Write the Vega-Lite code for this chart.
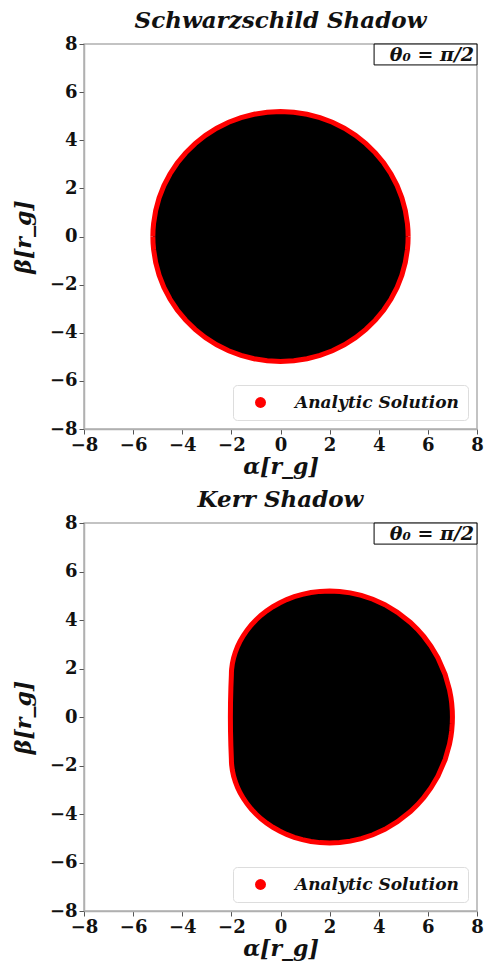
{
  "$schema": "https://vega.github.io/schema/vega-lite/v6.json",
  "background": "white",
  "padding": {"left": 11, "top": 9, "right": 8, "bottom": 1},
  "spacing": 10,
  "resolve": {"scale": {"color": "independent"}, "legend": {"color": "independent"}},
  "datasets": {
    "schw": [
      {"a": -5.196, "b": 0, "nb": 0},
      {"a": -5.189, "b": 0.272, "nb": -0.272},
      {"a": -5.167, "b": 0.543, "nb": -0.543},
      {"a": -5.082, "b": 1.080, "nb": -1.080},
      {"a": -4.942, "b": 1.606, "nb": -1.606},
      {"a": -4.747, "b": 2.113, "nb": -2.113},
      {"a": -4.500, "b": 2.598, "nb": -2.598},
      {"a": -4.204, "b": 3.054, "nb": -3.054},
      {"a": -3.861, "b": 3.477, "nb": -3.477},
      {"a": -3.477, "b": 3.861, "nb": -3.861},
      {"a": -3.054, "b": 4.204, "nb": -4.204},
      {"a": -2.598, "b": 4.500, "nb": -4.500},
      {"a": -2.113, "b": 4.747, "nb": -4.747},
      {"a": -1.606, "b": 4.942, "nb": -4.942},
      {"a": -1.080, "b": 5.082, "nb": -5.082},
      {"a": -0.543, "b": 5.167, "nb": -5.167},
      {"a": 0, "b": 5.196, "nb": -5.196},
      {"a": 0.543, "b": 5.167, "nb": -5.167},
      {"a": 1.080, "b": 5.082, "nb": -5.082},
      {"a": 1.606, "b": 4.942, "nb": -4.942},
      {"a": 2.113, "b": 4.747, "nb": -4.747},
      {"a": 2.598, "b": 4.500, "nb": -4.500},
      {"a": 3.054, "b": 4.204, "nb": -4.204},
      {"a": 3.477, "b": 3.861, "nb": -3.861},
      {"a": 3.861, "b": 3.477, "nb": -3.477},
      {"a": 4.204, "b": 3.054, "nb": -3.054},
      {"a": 4.500, "b": 2.598, "nb": -2.598},
      {"a": 4.747, "b": 2.113, "nb": -2.113},
      {"a": 4.942, "b": 1.606, "nb": -1.606},
      {"a": 5.082, "b": 1.080, "nb": -1.080},
      {"a": 5.167, "b": 0.543, "nb": -0.543},
      {"a": 5.189, "b": 0.272, "nb": -0.272},
      {"a": 5.196, "b": 0, "nb": 0}
    ],
    "kerr": [
      {"a": -2.04, "b": 0, "nb": 0},
      {"a": -2.035, "b": 0.6, "nb": -0.6},
      {"a": -2.02, "b": 1.2, "nb": -1.2},
      {"a": -2.0, "b": 1.732, "nb": -1.732},
      {"a": -1.9975, "b": 1.848, "nb": -1.848},
      {"a": -1.99, "b": 1.965, "nb": -1.965},
      {"a": -1.96, "b": 2.200, "nb": -2.200},
      {"a": -1.91, "b": 2.436, "nb": -2.436},
      {"a": -1.84, "b": 2.671, "nb": -2.671},
      {"a": -1.75, "b": 2.905, "nb": -2.905},
      {"a": -1.64, "b": 3.135, "nb": -3.135},
      {"a": -1.51, "b": 3.362, "nb": -3.362},
      {"a": -1.36, "b": 3.582, "nb": -3.582},
      {"a": -1.19, "b": 3.795, "nb": -3.795},
      {"a": -1.0, "b": 4.0, "nb": -4.0},
      {"a": -0.79, "b": 4.195, "nb": -4.195},
      {"a": -0.56, "b": 4.378, "nb": -4.378},
      {"a": -0.31, "b": 4.548, "nb": -4.548},
      {"a": -0.04, "b": 4.703, "nb": -4.703},
      {"a": 0.25, "b": 4.841, "nb": -4.841},
      {"a": 0.56, "b": 4.961, "nb": -4.961},
      {"a": 0.89, "b": 5.058, "nb": -5.058},
      {"a": 1.24, "b": 5.133, "nb": -5.133},
      {"a": 1.61, "b": 5.180, "nb": -5.180},
      {"a": 2.0, "b": 5.196, "nb": -5.196},
      {"a": 2.41, "b": 5.178, "nb": -5.178},
      {"a": 2.84, "b": 5.120, "nb": -5.120},
      {"a": 3.29, "b": 5.016, "nb": -5.016},
      {"a": 3.76, "b": 4.856, "nb": -4.856},
      {"a": 4.25, "b": 4.630, "nb": -4.630},
      {"a": 4.76, "b": 4.320, "nb": -4.320},
      {"a": 5.29, "b": 3.898, "nb": -3.898},
      {"a": 5.5625, "b": 3.631, "nb": -3.631},
      {"a": 5.84, "b": 3.313, "nb": -3.313},
      {"a": 6.1225, "b": 2.926, "nb": -2.926},
      {"a": 6.41, "b": 2.436, "nb": -2.436},
      {"a": 6.7025, "b": 1.755, "nb": -1.755},
      {"a": 6.8804, "b": 1.123, "nb": -1.123},
      {"a": 6.9401, "b": 0.797, "nb": -0.797},
      {"a": 6.970, "b": 0.565, "nb": -0.565},
      {"a": 6.994, "b": 0.253, "nb": -0.253},
      {"a": 7.0, "b": 0, "nb": 0}
    ],
    "box": [
      {"a": 3.81, "a2": 8, "b": 7.13, "b2": 8, "t": "θ₀ = π/2", "ta": 7.88, "tb": 7.55}
    ]
  },
  "config": {
    "view": {"stroke": "#b0b0b0", "strokeWidth": 1.5},
    "axis": {
      "grid": false,
      "labelFlush": false,
      "domainColor": "#b0b0b0",
      "domainWidth": 1.5,
      "tickColor": "#555555",
      "tickSize": 5,
      "labelPadding": 2,
      "labelFont": "DejaVu Serif",
      "labelFontWeight": "bold",
      "labelFontSize": 18,
      "labelColor": "#111111",
      "titleFont": "DejaVu Serif",
      "titleFontWeight": "bold",
      "titleFontStyle": "italic",
      "titleFontSize": 22,
      "titlePadding": 2,
      "titleColor": "#111111"
    },
    "axisY": {"titlePadding": 14},
    "title": {
      "font": "DejaVu Serif",
      "fontWeight": "bold",
      "fontStyle": "italic",
      "fontSize": 23,
      "color": "#111111",
      "offset": 2
    },
    "legend": {
      "orient": "bottom-right",
      "offset": 9,
      "fillColor": "white",
      "strokeColor": "#dddddd",
      "cornerRadius": 4,
      "padding": 9,
      "symbolType": "circle",
      "symbolSize": 120,
      "symbolFillColor": "#ff0000",
      "symbolStrokeWidth": 0,
      "symbolOffset": 10,
      "labelOffset": 26,
      "labelLimit": 400,
      "labelFont": "DejaVu Serif",
      "labelFontWeight": "bold",
      "labelFontStyle": "italic",
      "labelFontSize": 17,
      "labelColor": "#111111"
    }
  },
  "vconcat": [
    {
      "width": 393,
      "height": 385,
      "title": "Schwarzschild Shadow",
      "layer": [
        {
          "data": {"name": "schw"},
          "mark": {"type": "area", "color": "black"},
          "encoding": {
            "x": {"field": "a", "type": "quantitative", "title": "α[r_g]", "scale": {"domain": [-8, 8], "nice": false}, "axis": {"values": [-8, -6, -4, -2, 0, 2, 4, 6, 8]}},
            "y": {"field": "b", "type": "quantitative", "title": "β[r_g]", "scale": {"domain": [-8, 8], "nice": false}, "axis": {"values": [-8, -6, -4, -2, 0, 2, 4, 6, 8]}},
            "y2": {"field": "nb"}
          }
        },
        {
          "data": {"name": "schw"},
          "mark": {"type": "line", "strokeWidth": 5},
          "encoding": {
            "x": {"field": "a", "type": "quantitative", "title": "α[r_g]"},
            "y": {"field": "b", "type": "quantitative", "title": "β[r_g]"},
            "color": {"datum": "Analytic Solution", "scale": {"range": ["#ff0000"]}, "legend": {"title": null}}
          }
        },
        {
          "data": {"name": "schw"},
          "mark": {"type": "line", "strokeWidth": 5},
          "encoding": {
            "x": {"field": "a", "type": "quantitative", "title": "α[r_g]"},
            "y": {"field": "nb", "type": "quantitative", "title": "β[r_g]"},
            "color": {"datum": "Analytic Solution"}
          }
        },
        {
          "data": {"name": "box"},
          "mark": {"type": "rect", "fill": "white", "stroke": "black", "strokeWidth": 1},
          "encoding": {
            "x": {"field": "a", "type": "quantitative", "title": "α[r_g]"},
            "x2": {"field": "a2"},
            "y": {"field": "b", "type": "quantitative", "title": "β[r_g]"},
            "y2": {"field": "b2"}
          }
        },
        {
          "data": {"name": "box"},
          "mark": {"type": "text", "align": "right", "baseline": "middle", "font": "DejaVu Serif", "fontWeight": "bold", "fontStyle": "italic", "fontSize": 19, "color": "#111111"},
          "encoding": {
            "x": {"field": "ta", "type": "quantitative", "title": "α[r_g]"},
            "y": {"field": "tb", "type": "quantitative", "title": "β[r_g]"},
            "text": {"field": "t"}
          }
        }
      ]
    },
    {
      "width": 393,
      "height": 388,
      "title": "Kerr Shadow",
      "layer": [
        {
          "data": {"name": "kerr"},
          "mark": {"type": "area", "color": "black"},
          "encoding": {
            "x": {"field": "a", "type": "quantitative", "title": "α[r_g]", "scale": {"domain": [-8, 8], "nice": false}, "axis": {"values": [-8, -6, -4, -2, 0, 2, 4, 6, 8]}},
            "y": {"field": "b", "type": "quantitative", "title": "β[r_g]", "scale": {"domain": [-8, 8], "nice": false}, "axis": {"values": [-8, -6, -4, -2, 0, 2, 4, 6, 8]}},
            "y2": {"field": "nb"}
          }
        },
        {
          "data": {"name": "kerr"},
          "mark": {"type": "line", "strokeWidth": 5},
          "encoding": {
            "x": {"field": "a", "type": "quantitative", "title": "α[r_g]"},
            "y": {"field": "b", "type": "quantitative", "title": "β[r_g]"},
            "color": {"datum": "Analytic Solution", "scale": {"range": ["#ff0000"]}, "legend": {"title": null}}
          }
        },
        {
          "data": {"name": "kerr"},
          "mark": {"type": "line", "strokeWidth": 5},
          "encoding": {
            "x": {"field": "a", "type": "quantitative", "title": "α[r_g]"},
            "y": {"field": "nb", "type": "quantitative", "title": "β[r_g]"},
            "color": {"datum": "Analytic Solution"}
          }
        },
        {
          "data": {"name": "box"},
          "mark": {"type": "rect", "fill": "white", "stroke": "black", "strokeWidth": 1},
          "encoding": {
            "x": {"field": "a", "type": "quantitative", "title": "α[r_g]"},
            "x2": {"field": "a2"},
            "y": {"field": "b", "type": "quantitative", "title": "β[r_g]"},
            "y2": {"field": "b2"}
          }
        },
        {
          "data": {"name": "box"},
          "mark": {"type": "text", "align": "right", "baseline": "middle", "font": "DejaVu Serif", "fontWeight": "bold", "fontStyle": "italic", "fontSize": 19, "color": "#111111"},
          "encoding": {
            "x": {"field": "ta", "type": "quantitative", "title": "α[r_g]"},
            "y": {"field": "tb", "type": "quantitative", "title": "β[r_g]"},
            "text": {"field": "t"}
          }
        }
      ]
    }
  ]
}
